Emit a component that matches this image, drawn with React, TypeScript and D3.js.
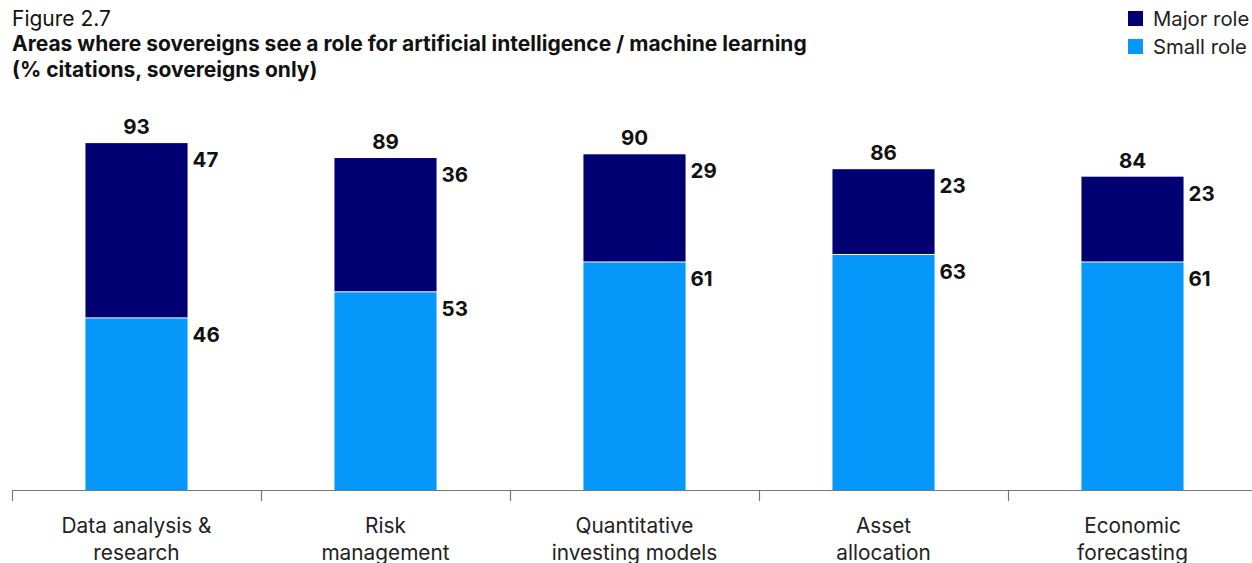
import React from "react";
import * as d3 from "d3";

const categories = [
  ["Data analysis &", "research"],
  ["Risk", "management"],
  ["Quantitative", "investing models"],
  ["Asset", "allocation"],
  ["Economic", "forecasting"],
];
const smallRole = [46, 53, 61, 63, 61];
const majorRole = [47, 36, 29, 23, 23];
const totals = [93, 89, 90, 86, 84];

const W = 1252;
const H = 563;
const FONT = "Inter, 'Noto Sans', sans-serif";
const NAVY = "#000073";
const BLUE = "#0598fa";

export default function App() {
  const x = d3
    .scaleBand<number>()
    .domain(d3.range(categories.length))
    .range([12, 1257])
    .paddingInner(0)
    .paddingOuter(0);
  const y = d3.scaleLinear().domain([0, 100]).range([490, 117]);
  const bw = x.bandwidth() * 0.41;

  return (
    <svg width={W} height={H} style={{ position: "absolute", left: 0, top: 0, fontFamily: FONT }}>
      <text x={12} y={26} fontSize={21} fill="#111">Figure 2.7</text>
      <text x={12} y={51} fontSize={21} fontWeight={700} fill="#111">
        Areas where sovereigns see a role for artificial intelligence / machine learning
      </text>
      <text x={12} y={77} fontSize={21} fontWeight={700} fill="#111">
        (% citations, sovereigns only)
      </text>

      <rect x={1128} y={11} width={15} height={15} fill={NAVY} />
      <text x={1153} y={26} fontSize={20.3} fill="#222">Major role</text>
      <rect x={1128} y={39} width={15} height={15} fill={BLUE} />
      <text x={1153} y={54} fontSize={20.3} fill="#222">Small role</text>

      {categories.map((c, i) => {
        const cx = (x(i) as number) + x.bandwidth() / 2;
        const x0 = cx - bw / 2;
        const ySmallTop = y(smallRole[i]);
        const yMajorTop = y(smallRole[i] + majorRole[i]);
        return (
          <g key={i}>
            <rect x={x0} y={ySmallTop} width={bw} height={y(0) - ySmallTop} fill={BLUE} />
            <rect x={x0} y={yMajorTop} width={bw} height={ySmallTop - yMajorTop - 1} fill={NAVY} />
            <text x={cx} y={yMajorTop - 9} textAnchor="middle" fontSize={20.5} fontWeight={700} fill="#111">
              {totals[i]}
            </text>
            <text x={x0 + bw + 5} y={yMajorTop + 24} fontSize={20.5} fontWeight={700} fill="#111">
              {majorRole[i]}
            </text>
            <text x={x0 + bw + 5} y={ySmallTop + 24} fontSize={20.5} fontWeight={700} fill="#111">
              {smallRole[i]}
            </text>
            <text x={cx} y={533} textAnchor="middle" fontSize={20.8} fill="#222">{c[0]}</text>
            <text x={cx} y={560} textAnchor="middle" fontSize={20.8} fill="#222">{c[1]}</text>
          </g>
        );
      })}

      <line x1={12} x2={W} y1={490.5} y2={490.5} stroke="#777" strokeWidth={1.2} />
      {d3.range(categories.length).map((i) => (
        <line key={i} x1={(x(i) as number) + 0.5} x2={(x(i) as number) + 0.5} y1={490} y2={501} stroke="#777" strokeWidth={1.2} />
      ))}
    </svg>
  );
}
